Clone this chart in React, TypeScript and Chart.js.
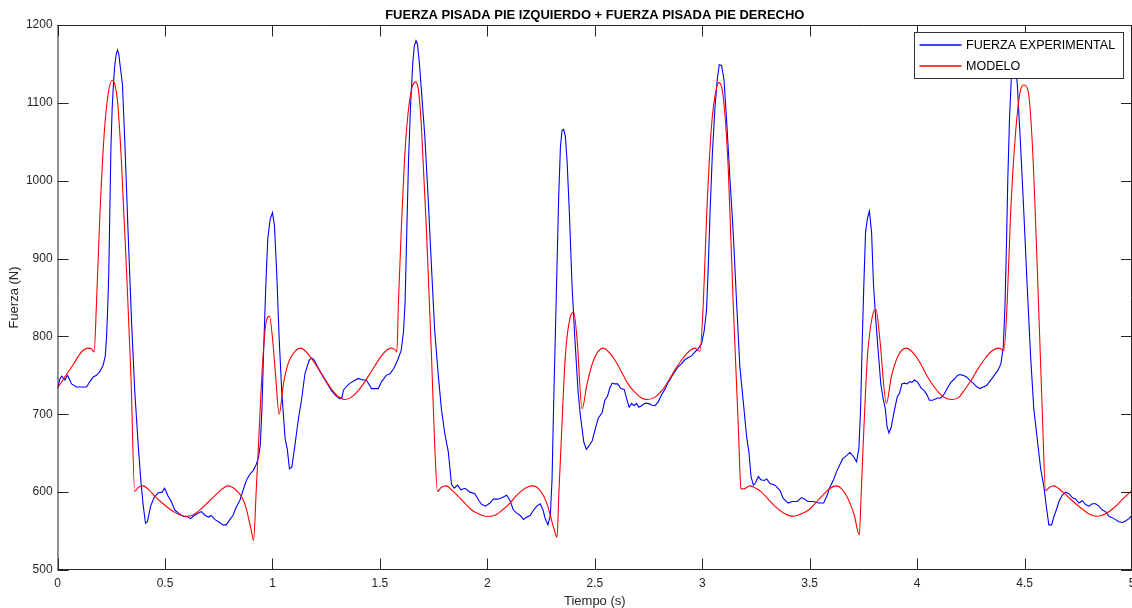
import React, { useEffect, useRef } from "react";
import { Chart, registerables } from "chart.js";

Chart.register(...registerables);

const FONT = "'Liberation Sans', Arial, Helvetica, sans-serif";

const chartTitle = "FUERZA PISADA PIE IZQUIERDO + FUERZA PISADA PIE DERECHO";
const xAxisLabel = "Tiempo (s)";
const yAxisLabel = "Fuerza (N)";
const seriesNames = ["FUERZA EXPERIMENTAL", "MODELO"];
const seriesColors = ["#0000ff", "#ff0000"];

const xTicks = [0, 0.5, 1, 1.5, 2, 2.5, 3, 3.5, 4, 4.5, 5];
const xTickLabels = ["0", "0.5", "1", "1.5", "2", "2.5", "3", "3.5", "4", "4.5", "5"];
const yTicks = [500, 600, 700, 800, 900, 1000, 1100, 1200];
const yTickLabels = ["500", "600", "700", "800", "900", "1000", "1100", "1200"];

// Measured ground reaction force (s, N)
const expTime = [
  0.000, 0.010, 0.019, 0.034, 0.046, 0.055, 0.065, 0.088, 0.110, 0.135, 0.150, 0.166, 0.181, 0.197, 0.212, 0.222,
  0.228, 0.233, 0.238, 0.243, 0.248, 0.254, 0.260, 0.266, 0.273, 0.279, 0.285, 0.291, 0.302, 0.313, 0.328, 0.344,
  0.359, 0.375, 0.387, 0.398, 0.409, 0.418, 0.433, 0.449, 0.467, 0.486, 0.498, 0.514, 0.529, 0.545, 0.563, 0.584,
  0.607, 0.619, 0.635, 0.653, 0.669, 0.687, 0.703, 0.715, 0.731, 0.754, 0.769, 0.785, 0.800, 0.816, 0.830, 0.849,
  0.866, 0.880, 0.895, 0.911, 0.925, 0.935, 0.943, 0.951, 0.958, 0.969, 0.978, 0.989, 1.000, 1.009, 1.020, 1.031,
  1.043, 1.059, 1.069, 1.079, 1.090, 1.105, 1.120, 1.136, 1.151, 1.170, 1.180, 1.190, 1.205, 1.221, 1.236, 1.256,
  1.275, 1.298, 1.314, 1.324, 1.330, 1.345, 1.361, 1.380, 1.399, 1.420, 1.437, 1.461, 1.475, 1.492, 1.508, 1.529,
  1.547, 1.565, 1.583, 1.599, 1.610, 1.617, 1.625, 1.633, 1.642, 1.653, 1.660, 1.668, 1.675, 1.684, 1.693, 1.709,
  1.724, 1.740, 1.755, 1.771, 1.786, 1.802, 1.818, 1.826, 1.833, 1.846, 1.861, 1.877, 1.896, 1.919, 1.942, 1.961,
  1.974, 1.992, 2.012, 2.028, 2.048, 2.070, 2.090, 2.106, 2.121, 2.137, 2.153, 2.168, 2.184, 2.199, 2.215, 2.230,
  2.246, 2.259, 2.269, 2.282, 2.293, 2.301, 2.308, 2.316, 2.324, 2.332, 2.340, 2.347, 2.355, 2.363, 2.371, 2.382,
  2.394, 2.407, 2.422, 2.433, 2.449, 2.461, 2.472, 2.488, 2.503, 2.516, 2.534, 2.547, 2.559, 2.570, 2.581, 2.593,
  2.606, 2.621, 2.637, 2.648, 2.660, 2.671, 2.683, 2.694, 2.705, 2.717, 2.733, 2.748, 2.764, 2.780, 2.795, 2.811,
  2.826, 2.842, 2.857, 2.873, 2.888, 2.904, 2.919, 2.935, 2.950, 2.966, 2.981, 2.997, 3.009, 3.020, 3.028, 3.036,
  3.047, 3.059, 3.070, 3.079, 3.090, 3.101, 3.113, 3.129, 3.144, 3.160, 3.175, 3.191, 3.207, 3.217, 3.227, 3.238,
  3.248, 3.261, 3.273, 3.289, 3.300, 3.315, 3.339, 3.362, 3.377, 3.400, 3.418, 3.442, 3.462, 3.477, 3.492, 3.518,
  3.542, 3.565, 3.580, 3.595, 3.611, 3.626, 3.642, 3.654, 3.668, 3.687, 3.703, 3.718, 3.729, 3.737, 3.745, 3.752,
  3.760, 3.769, 3.778, 3.788, 3.797, 3.808, 3.818, 3.831, 3.842, 3.852, 3.860, 3.869, 3.880, 3.892, 3.908, 3.918,
  3.929, 3.942, 3.954, 3.965, 3.975, 3.988, 4.003, 4.018, 4.034, 4.046, 4.057, 4.072, 4.095, 4.111, 4.126, 4.142,
  4.157, 4.172, 4.188, 4.199, 4.214, 4.230, 4.248, 4.261, 4.275, 4.292, 4.308, 4.323, 4.340, 4.354, 4.377, 4.390,
  4.401, 4.409, 4.416, 4.422, 4.430, 4.438, 4.447, 4.455, 4.466, 4.481, 4.497, 4.512, 4.528, 4.543, 4.562, 4.575,
  4.590, 4.602, 4.613, 4.626, 4.637, 4.649, 4.660, 4.675, 4.691, 4.707, 4.722, 4.738, 4.753, 4.769, 4.784, 4.800,
  4.815, 4.831, 4.846, 4.862, 4.877, 4.893, 4.916, 4.939, 4.955, 4.970, 4.986, 5.000,
];
const expForce = [
  733, 745, 749, 744, 750, 745, 739, 735, 735, 735, 742, 748, 750, 755, 763, 775,
  800, 835, 880, 960, 1040, 1093, 1125, 1148, 1163, 1168, 1162, 1148, 1123, 1048, 934, 820,
  730, 661, 616, 584, 560, 562, 582, 593, 599, 600, 605, 595, 588, 577, 573, 569,
  568, 566, 570, 573, 575, 570, 568, 570, 565, 561, 558, 558, 564, 570, 580, 590,
  605, 616, 623, 628, 636, 645, 660, 707, 775, 866, 925, 950, 959, 943, 880, 798,
  730, 668, 655, 630, 632, 661, 693, 720, 752, 769, 772, 771, 764, 755, 748, 739,
  730, 723, 720, 722, 731, 736, 740, 743, 746, 744, 744, 733, 733, 733, 742, 750,
  752, 759, 770, 782, 807, 843, 934, 1025, 1093, 1152, 1173, 1180, 1175, 1150, 1116, 1057,
  980, 889, 807, 752, 707, 675, 652, 630, 610, 605, 609, 603, 605, 600, 598, 589,
  584, 582, 586, 591, 591, 593, 596, 589, 577, 573, 570, 565, 568, 570, 577, 582,
  585, 577, 566, 558, 570, 616, 707, 798, 889, 980, 1043, 1064, 1066, 1057, 1025, 957,
  866, 798, 730, 698, 664, 655, 659, 666, 682, 695, 702, 718, 723, 734, 740, 739,
  739, 733, 732, 720, 709, 714, 711, 714, 709, 711, 714, 714, 712, 711, 716, 725,
  732, 741, 748, 755, 761, 765, 770, 773, 775, 780, 784, 791, 807, 834, 889, 957,
  1034, 1093, 1130, 1149, 1148, 1130, 1080, 1002, 934, 843, 761, 716, 670, 652, 620, 609,
  612, 620, 616, 615, 617, 611, 609, 602, 592, 586, 588, 588, 593, 591, 588, 588,
  586, 586, 595, 607, 616, 627, 636, 643, 646, 651, 646, 639, 656, 707, 798, 866,
  934, 952, 961, 934, 866, 820, 784, 739, 720, 707, 684, 676, 684, 702, 723, 727,
  739, 740, 739, 742, 741, 744, 741, 734, 730, 725, 718, 718, 721, 721, 726, 734,
  741, 745, 750, 751, 750, 748, 743, 740, 736, 733, 735, 737, 743, 748, 757, 765,
  787, 840, 920, 1002, 1080, 1130, 1150, 1152, 1125, 1048, 957, 866, 775, 707, 661, 630,
  607, 580, 558, 558, 569, 578, 588, 596, 600, 598, 593, 591, 586, 589, 584, 582,
  585, 585, 582, 577, 575, 569, 566, 562, 561, 563, 566, 570,
];

// Model force (s, N)
const modelTime = [
  0.000, 0.034, 0.073, 0.111, 0.142, 0.158, 0.170, 0.181, 0.197, 0.217, 0.235, 0.254, 0.266, 0.279, 0.297, 0.320,
  0.341, 0.359, 0.375, 0.398, 0.425, 0.452, 0.483, 0.514, 0.545, 0.576, 0.599, 0.625, 0.653, 0.685, 0.715, 0.745,
  0.770, 0.793, 0.815, 0.840, 0.858, 0.875, 0.889, 0.902, 0.912, 0.924, 0.935, 0.951, 0.969, 0.986, 1.000, 1.015,
  1.031, 1.051, 1.074, 1.102, 1.131, 1.167, 1.213, 1.245, 1.275, 1.305, 1.336, 1.368, 1.398, 1.430, 1.460, 1.492,
  1.522, 1.552, 1.570, 1.579, 1.586, 1.599, 1.614, 1.630, 1.648, 1.666, 1.680, 1.693, 1.717, 1.740, 1.755, 1.768,
  1.785, 1.810, 1.837, 1.864, 1.895, 1.927, 1.960, 1.990, 2.012, 2.040, 2.070, 2.098, 2.130, 2.160, 2.190, 2.215,
  2.240, 2.262, 2.280, 2.293, 2.310, 2.324, 2.333, 2.343, 2.363, 2.386, 2.402, 2.417, 2.441, 2.464, 2.495, 2.539,
  2.565, 2.593, 2.625, 2.655, 2.687, 2.717, 2.745, 2.780, 2.811, 2.843, 2.873, 2.905, 2.935, 2.966, 2.989, 3.005,
  3.020, 3.043, 3.067, 3.079, 3.098, 3.121, 3.144, 3.168, 3.180, 3.191, 3.222, 3.250, 3.276, 3.310, 3.342, 3.380,
  3.426, 3.460, 3.495, 3.527, 3.557, 3.590, 3.626, 3.650, 3.672, 3.690, 3.708, 3.731, 3.740, 3.749, 3.769, 3.791,
  3.808, 3.826, 3.857, 3.880, 3.911, 3.949, 3.988, 4.020, 4.049, 4.080, 4.111, 4.140, 4.165, 4.195, 4.217, 4.250,
  4.280, 4.312, 4.342, 4.380, 4.404, 4.419, 4.435, 4.458, 4.481, 4.497, 4.516, 4.536, 4.559, 4.582, 4.598, 4.615,
  4.637, 4.665, 4.699, 4.730, 4.761, 4.800, 4.839, 4.875, 4.916, 4.960, 5.000,
];
const modelForce = [
  734, 748, 764, 780, 785, 784, 780, 843, 957, 1061, 1111, 1129, 1124, 1102, 1025, 889,
  752, 601, 606, 608, 603, 595, 587, 580, 574, 570, 569, 570, 575, 583, 591, 599,
  605, 608, 606, 600, 593, 582, 566, 550, 538, 600, 661, 752, 816, 826, 798, 748,
  700, 739, 766, 780, 785, 777, 759, 745, 732, 723, 719, 722, 730, 742, 755, 769,
  780, 785, 783, 780, 843, 934, 1025, 1084, 1118, 1127, 1115, 1070, 934, 775, 661, 601,
  606, 608, 602, 595, 586, 577, 572, 569, 569, 571, 577, 584, 594, 602, 607, 608,
  604, 595, 583, 570, 553, 542, 600, 661, 775, 825, 831, 798, 707, 739, 770, 785,
  780, 770, 754, 739, 728, 721, 719, 722, 730, 743, 757, 770, 780, 785, 781, 843,
  952, 1070, 1120, 1126, 1107, 1016, 843, 684, 605, 604, 608, 605, 600, 590, 581, 573,
  569, 572, 577, 586, 595, 604, 608, 604, 595, 584, 570, 545, 600, 661, 775, 825,
  835, 798, 714, 748, 775, 785, 777, 763, 748, 735, 725, 720, 719, 722, 730, 743,
  757, 770, 780, 785, 782, 843, 957, 1061, 1116, 1123, 1116, 1048, 889, 707, 602, 606,
  608, 603, 595, 587, 580, 572, 569, 572, 580, 592, 602,
];

const toPoints = (xs: number[], ys: number[]) => ys.map((y, i) => ({ x: xs[i], y }));

// Box, inward tick marks on all four sides, title and the in-axes legend
const axesDecor = {
  id: "axesDecor",
  afterDatasetsDraw(chart: any) {
    const { ctx, chartArea: a, scales } = chart;
    const ink = "#262626";
    const tickLen = 11;
    const top = Math.floor(a.top) + 0.5;
    const bottom = Math.floor(a.bottom) - 0.5;
    const right = Math.floor(a.right) - 0.5;
    const left = a.left + 0.4;
    ctx.save();
    ctx.strokeStyle = ink;
    ctx.lineWidth = 1;
    ctx.beginPath();
    ctx.moveTo(a.left, top);
    ctx.lineTo(a.right, top);
    ctx.moveTo(a.left, bottom);
    ctx.lineTo(a.right, bottom);
    ctx.moveTo(right, a.top);
    ctx.lineTo(right, a.bottom);
    ctx.moveTo(left, a.top);
    ctx.lineTo(left, a.bottom);
    for (const v of xTicks) {
      const px = Math.round(scales.x.getPixelForValue(v)) + 0.5;
      ctx.moveTo(px, bottom);
      ctx.lineTo(px, bottom - tickLen);
      ctx.moveTo(px, top);
      ctx.lineTo(px, top + tickLen);
    }
    for (const v of yTicks) {
      const py = Math.round(scales.y.getPixelForValue(v)) + 0.5;
      ctx.moveTo(a.left, py);
      ctx.lineTo(a.left + tickLen, py);
      ctx.moveTo(a.right, py);
      ctx.lineTo(a.right - tickLen, py);
    }
    ctx.stroke();

    // title, centred over the axes
    ctx.fillStyle = "#000000";
    ctx.font = `bold 13px ${FONT}`;
    ctx.textAlign = "center";
    ctx.textBaseline = "middle";
    ctx.fillText(chartTitle, (a.left + a.right) / 2, 15.5);

    // legend box in the upper right corner
    const bx = 914.5, by = 32.5, bw = 209, bh = 46;
    ctx.fillStyle = "#ffffff";
    ctx.fillRect(bx, by, bw, bh);
    ctx.strokeStyle = "#333333";
    ctx.strokeRect(bx, by, bw, bh);
    ctx.font = `12.5px ${FONT}`;
    ctx.textAlign = "left";
    chart.data.datasets.forEach((ds: any, i: number) => {
      const ly = 45 + i * 21;
      ctx.strokeStyle = ds.borderColor;
      ctx.lineWidth = 1.3;
      ctx.beginPath();
      ctx.moveTo(919.5, ly);
      ctx.lineTo(961.5, ly);
      ctx.stroke();
      ctx.fillStyle = "#000000";
      ctx.fillText(ds.label, 966, ly + 0.5);
    });
    ctx.restore();
  },
};

export default function App() {
  const canvasRef = useRef<HTMLCanvasElement | null>(null);

  useEffect(() => {
    const canvas = canvasRef.current;
    if (!canvas) return;
    const chart = new Chart(canvas, {
      type: "line",
      data: {
        datasets: [
          {
            label: seriesNames[0],
            data: toPoints(expTime, expForce),
            borderColor: seriesColors[0],
            borderWidth: 1.1,
            pointRadius: 0,
            tension: 0,
            order: 1,
          },
          {
            label: seriesNames[1],
            data: toPoints(modelTime, modelForce),
            borderColor: seriesColors[1],
            borderWidth: 1.1,
            pointRadius: 0,
            cubicInterpolationMode: "monotone",
            order: 0,
          },
        ],
      },
      options: {
        animation: false,
        responsive: false,
        devicePixelRatio: 1,
        events: [],
        layout: { padding: { top: 25, left: 0, right: 0, bottom: 0 } },
        plugins: {
          legend: { display: false },
          title: { display: false },
          tooltip: { enabled: false },
        },
        scales: {
          x: {
            type: "linear",
            min: 0,
            max: 5,
            afterBuildTicks: (s: any) => {
              s.ticks = xTicks.map((v) => ({ value: v }));
            },
            afterFit: (s: any) => {
              s.height = 38;
              s.paddingLeft = 0;
              s.paddingRight = 0;
            },
            grid: { display: false, drawTicks: false },
            border: { display: false },
            ticks: {
              autoSkip: false,
              maxRotation: 0,
              padding: 6,
              color: "#262626",
              font: { family: FONT, size: 12 },
              callback: (v: any) => xTickLabels[xTicks.indexOf(Number(v))] ?? "",
            },
            title: {
              display: true,
              text: xAxisLabel,
              color: "#262626",
              font: { family: FONT, size: 13, lineHeight: 1 },
              padding: { top: 0, bottom: 0.5 },
            },
          },
          y: {
            type: "linear",
            min: 500,
            max: 1200,
            afterBuildTicks: (s: any) => {
              s.ticks = yTicks.map((v) => ({ value: v }));
            },
            afterFit: (s: any) => {
              s.width = 57.6;
              s.paddingTop = 0;
              s.paddingBottom = 0;
            },
            grid: { display: false, drawTicks: false },
            border: { display: false },
            ticks: {
              padding: 5,
              color: "#262626",
              font: { family: FONT, size: 12 },
              callback: (v: any) => yTickLabels[yTicks.indexOf(Number(v))] ?? "",
            },
            title: {
              display: true,
              text: yAxisLabel,
              color: "#262626",
              font: { family: FONT, size: 13, lineHeight: 1 },
              padding: { top: 7.5, bottom: 0 },
            },
          },
        },
      },
      plugins: [axesDecor],
    });
    return () => chart.destroy();
  }, []);

  return (
    <div
      style={{
        position: "fixed",
        left: 0,
        top: 0,
        width: 1132,
        height: 608,
        background: "#ffffff",
        overflow: "hidden",
      }}
    >
      <canvas ref={canvasRef} width={1132} height={608} style={{ display: "block" }} />
    </div>
  );
}
